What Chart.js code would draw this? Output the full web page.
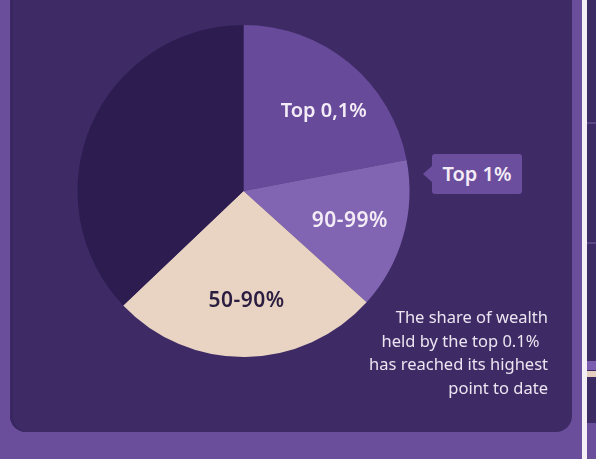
<!DOCTYPE html>
<html>
<head>
<meta charset="utf-8">
<script src="https://cdn.jsdelivr.net/npm/chart.js@4.4.1/dist/chart.umd.min.js"></script>
<style>
  html, body { margin:0; padding:0; }
  body { width:596px; height:459px; background:#6a4e9b; position:relative; overflow:hidden; font-family:"Noto Sans", sans-serif; }
  #panel { position:absolute; left:10px; top:-20px; width:562px; height:452px; background:#3e2b66; border-radius:16px; box-shadow: inset 3px 0 0 #382760; }
  #divider { position:absolute; left:582px; top:0; width:5px; height:459px; background:#f4eff7; }
  #side { position:absolute; left:587px; top:0; width:9px; height:459px; background:#3c2a62; }
  .sideline { position:absolute; left:587px; width:9px; height:2px; background:#5a4585; }
  #sidebottom { position:absolute; left:587px; top:423px; width:9px; height:36px; background:#6a4e9b; }
  #wrap { position:absolute; left:0; top:0; width:596px; height:459px; }
  #callout { position:absolute; left:432px; top:154px; width:90px; height:40px; background:#6b4f9e; border-radius:3px;
             color:#f3ecf6; font-size:20px; font-weight:600; line-height:40px; text-align:center; }
  #callout:before { content:""; position:absolute; left:-9px; top:12px; border-top:8px solid transparent; border-bottom:8px solid transparent; border-right:9px solid #6b4f9e; }
  #note { position:absolute; right:48px; top:305px; text-align:right; color:#ece4f1; font-size:16.5px; line-height:23.7px; }
</style>
</head>
<body>
<div id="panel"></div>
<div id="divider"></div>
<div id="side"></div>
<div class="sideline" style="top:122px"></div>
<div class="sideline" style="top:242px"></div>
<div class="sideline" style="top:361px;height:9px;background:#7a5cb0"></div>
<div class="sideline" style="top:371px;height:6px;background:#e6cfc0"></div>
<div id="sidebottom"></div>
<div id="wrap"><canvas id="c" width="596" height="459"></canvas></div>
<div id="callout">Top 1%</div>
<div id="note">The share of wealth<br>held by the top 0.1%&nbsp;&nbsp;<br>has reached its highest<br>point to date</div>
<script>
// Data (shares of the pie in %)
const categories = ["Top 0,1%", "90-99%", "50-90%", "Bottom 50%"];
const shares = [22.0, 14.7, 26.2, 37.1];
const shownLabels = ["Top 0,1%", "90-99%", "50-90%", ""];

// Styles
const sliceColors = ["#684a9a", "#8164b2", "#e9d4c3", "#2c1c50"];
const labelColors = ["#f3ecf6", "#f3ecf6", "#2b1d40", "#f3ecf6"];
const labelFonts = ["600 20px 'Noto Sans'", "600 21px 'Noto Sans'", "600 21px 'Noto Sans'", "600 19px 'Noto Sans'"];
const labelRadius = [0.68, 0.665, 0.66, 0.6];
const labelAngleShift = [0.10, 0, -0.015, 0];

const sliceLabels = {
  id: 'sliceLabels',
  afterDatasetsDraw(chart) {
    const ctx = chart.ctx;
    const meta = chart.getDatasetMeta(0);
    meta.data.forEach((arc, i) => {
      if (!shownLabels[i]) return;
      const p = arc.getProps(['x','y','startAngle','endAngle','outerRadius'], true);
      const mid = (p.startAngle + p.endAngle) / 2 + labelAngleShift[i];
      const r = p.outerRadius * labelRadius[i];
      const x = p.x + Math.cos(mid) * r;
      const y = p.y + Math.sin(mid) * r;
      ctx.save();
      ctx.font = labelFonts[i];
      ctx.fillStyle = labelColors[i];
      ctx.textAlign = 'center';
      ctx.textBaseline = 'middle';
      if ('letterSpacing' in ctx && i > 0) ctx.letterSpacing = '0.5px';
      ctx.fillText(shownLabels[i], x, y);
      ctx.restore();
    });
  }
};

new Chart(document.getElementById('c'), {
  type: 'pie',
  data: {
    labels: categories,
    datasets: [{ data: shares, backgroundColor: sliceColors, borderWidth: 0, hoverOffset: 0 }]
  },
  options: {
    responsive: false,
    animation: false,
    layout: { padding: { left: 77, right: 186, top: 25, bottom: 102 } },
    plugins: { legend: { display: false }, tooltip: { enabled: false } },
    events: []
  },
  plugins: [sliceLabels]
});
</script>
</body>
</html>
